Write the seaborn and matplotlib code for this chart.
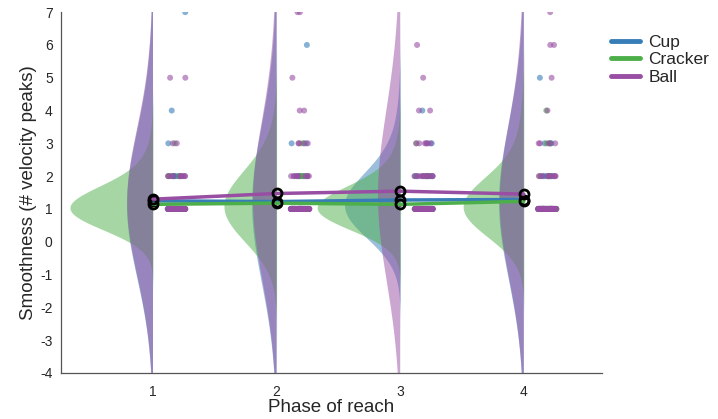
import numpy as np
import pandas as pd
import matplotlib
matplotlib.use("Agg")
import matplotlib.pyplot as plt
import matplotlib.transforms as mtransforms
from matplotlib.lines import Line2D
import seaborn as sns

# ---------------- data ----------------
phases = [1, 2, 3, 4]
groups = ["Cup", "Cracker", "Ball"]
levels = [1, 2, 3, 4, 5, 6, 7]          # number of velocity peaks

# trial counts at each level 1..7, one row per phase
cup_counts = [
    [60, 6, 1, 1, 0, 0, 1],
    [58, 6, 2, 0, 0, 1, 0],
    [44, 8, 2, 1, 0, 0, 0],
    [46, 6, 3, 0, 1, 0, 0],
]
cracker_counts = [
    [44, 5, 1, 0, 0, 0, 0],
    [44, 5, 2, 0, 0, 0, 0],
    [44, 5, 1, 0, 0, 0, 0],
    [44, 5, 2, 1, 0, 0, 0],
]
ball_counts = [
    [60, 10, 2, 0, 2, 0, 0],
    [66, 10, 4, 2, 1, 0, 2],
    [50, 12, 6, 2, 1, 1, 0],
    [75, 10, 5, 1, 1, 2, 1],
]

# KDE bandwidths (in # peaks) for each cloud
cup_bw = [2.2, 2.35, 0.95, 2.3]
cracker_bw = [0.65, 1.05, 0.65, 0.88]
ball_bw = [2.2, 2.35, 2.5, 2.3]

colors = {"Cup": "#377eb8", "Cracker": "#4daf4a", "Ball": "#984ea3"}

counts = {"Cup": cup_counts, "Cracker": cracker_counts, "Ball": ball_counts}
bws = {"Cup": cup_bw, "Cracker": cracker_bw, "Ball": ball_bw}

rows = []
for g in groups:
    for p, cnt in zip(phases, counts[g]):
        for lv, c in zip(levels, cnt):
            rows += [(p, g, lv)] * c
df = pd.DataFrame(rows, columns=["phase", "group", "value"])

# ---------------- figure ----------------
sns.set_style("white")
plt.rcParams["font.family"] = ["Liberation Sans", "DejaVu Sans"]
plt.rcParams["axes.unicode_minus"] = False
np.random.seed(3)

fig = plt.figure(figsize=(7.18, 4.19), dpi=100)
ax = fig.add_axes([0.085, 0.110, 0.753, 0.861])

K = 1.2   # horizontal scale of the clouds (x units per unit density)

# half-violin clouds, pointing left of each phase
for g in groups:
    for i, p in enumerate(phases):
        sub = df[(df.group == g) & (df.phase == p)]["value"].to_numpy(dtype=float)
        sd = sub.std(ddof=1)
        trans = mtransforms.Affine2D().scale(-K, 1).translate(p, 0) + ax.transData
        sns.kdeplot(y=sub, bw_method=bws[g][i] / sd, cut=4, gridsize=400,
                    fill=True, color=colors[g], alpha=0.5, linewidth=0,
                    ax=ax, transform=trans)

# raw data dots, to the right of each phase
n_before = len(ax.collections)
sns.stripplot(data=df, x="phase", y="value", hue="group", hue_order=groups,
              palette=colors, native_scale=True, jitter=0.075, size=4.3,
              alpha=0.6, linewidth=0, legend=False, ax=ax)
shift = mtransforms.Affine2D().translate(0.19, 0) + ax.transData
for coll in ax.collections[n_before:]:
    coll.set_offset_transform(shift)

# mean lines with circle markers
sns.lineplot(data=df, x="phase", y="value", hue="group", hue_order=groups,
             palette=colors, estimator="mean", errorbar=None, lw=2.5,
             marker="o", ms=6.5, mfc="none", mec="k", mew=2,
             legend=False, ax=ax, zorder=6)

# ---------------- axes styling ----------------
ax.set_xlim(0.256, 4.63)
ax.set_ylim(-4, 7)
ax.set_xticks(phases)
ax.set_yticks(range(-4, 8))
ax.set_xlabel("Phase of reach", fontsize=13.5, labelpad=0)
ax.set_ylabel("Smoothness (# velocity peaks)", fontsize=13.5, labelpad=2)
ax.tick_params(axis="both", direction="in", length=4, width=0.8,
               colors="#262626", labelsize=10, pad=6)
ax.tick_params(axis="x", length=0, pad=9)
for s in ["top", "right"]:
    ax.spines[s].set_visible(False)
for s in ["left", "bottom"]:
    ax.spines[s].set_color("#555555")
    ax.spines[s].set_linewidth(0.9)

handles = [Line2D([0], [0], color=colors[g], lw=3.5) for g in groups]
fig.legend(handles, groups, loc="upper left", bbox_to_anchor=(0.829, 0.955),
           frameon=False, fontsize=12.5, handlelength=1.7, handletextpad=0.45,
           labelspacing=0.15)

fig.savefig("out.png", dpi=100)
